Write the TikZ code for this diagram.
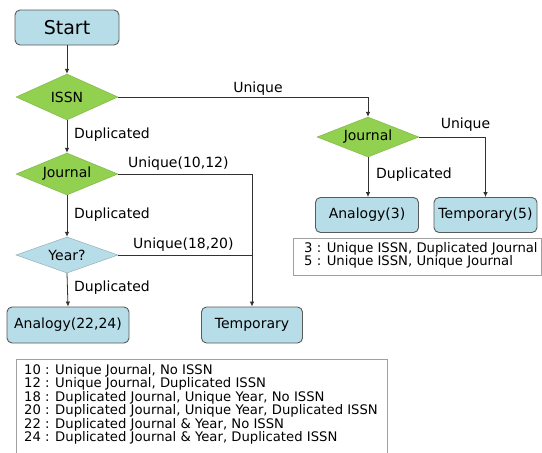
\documentclass[tikz,border=0pt]{standalone}
\usepackage{fontspec}
\setmainfont{DejaVu Sans}
\usetikzlibrary{shapes.geometric,arrows.meta,calc}
\definecolor{boxblue}{RGB}{183,222,232}
\definecolor{dgreen}{RGB}{146,208,80}
\definecolor{lineg}{RGB}{50,50,50}
\definecolor{bordg}{RGB}{90,90,90}
\definecolor{legg}{RGB}{160,160,160}
\begin{document}
\begin{tikzpicture}[x=1pt,y=-1pt,
  box/.style={draw=bordg,line width=0.9pt,fill=boxblue,rounded corners=5pt,inner sep=0pt,font=\fontsize{14}{16}\selectfont},
  dia/.style={diamond,aspect=2.2,inner sep=0pt,font=\fontsize{14}{16}\selectfont},
  gdia/.style={dia,fill=dgreen,draw=dgreen!85!black,line width=0.4pt},
  bdia/.style={dia,fill=boxblue,draw=boxblue!75!black,line width=0.4pt},
  conn/.style={draw=lineg,line width=0.8pt},
  arr/.style={conn,-{Latex[length=5pt,width=4.5pt]}},
  lab/.style={font=\fontsize{14}{16}\selectfont,inner sep=0pt},
  legtxt/.style={font=\fontsize{13.2}{13.5}\selectfont,align=left,inner sep=0pt,anchor=north west}
]
\useasboundingbox[fill=white] (0,0) rectangle (542,453);

% nodes
\node[box,minimum width=104pt,minimum height=35pt,font=\fontsize{19}{21}\selectfont] (start) at (67,27.5) {Start};
\node[gdia,minimum width=102pt,minimum height=46pt] (issn) at (67,97) {ISSN};
\node[gdia,minimum width=102pt,minimum height=42pt] (j1) at (67,174) {Journal};
\node[bdia,minimum width=102pt,minimum height=36pt] (year) at (67,255) {Year?};
\node[box,minimum width=122pt,minimum height=36pt] (an1) at (68,325) {Analogy(22,24)};
\node[box,minimum width=101pt,minimum height=36pt] (temp) at (252,325) {Temporary};
\node[gdia,minimum width=102pt,minimum height=40pt] (j2) at (368,137) {Journal};
\node[box,minimum width=103pt,minimum height=35pt] (an3) at (367,215) {Analogy(3)};
\node[box,minimum width=103pt,minimum height=35pt] (temp5) at (485.5,215) {Temporary(5)};

% connectors
\draw[arr] (start.south) -- (issn.north);
\draw[arr] (issn.south) -- (j1.north);
\draw[arr] (issn.east) -- (issn.east -| j2.north) -- (j2.north);
\draw[arr] (j1.south) -- (year.north);
\draw[arr] (j1.east) -- (j1.east -| temp.north) -- (temp.north);
\draw[conn] (year.east) -- (year.east -| temp.north);
\draw[arr] (year.south) -- (an1.north);
\draw[arr] (j2.south) -- (j2.south |- an3.north);
\draw[arr] (j2.east) -- (j2.east -| temp5.north) -- (temp5.north);

% labels
\node[lab,anchor=west] (l1) at (74,135) {Duplicated};
\node[lab] (l2) at (258,89) {Unique};
\node[lab,anchor=west] (l3) at (128,164) {Unique(10,12)};
\node[lab,anchor=west] (l4) at (74,215) {Duplicated};
\node[lab,anchor=west] (l5) at (133,245) {Unique(18,20)};
\node[lab,anchor=west] (l6) at (74,288) {Duplicated};
\node[lab] (l7) at (465.5,125) {Unique};
\node[lab,anchor=west] (l8) at (376,175) {Duplicated};

% right legend
\draw[legg,line width=0.6pt,fill=white] (293,238) rectangle (541,275);
\node[legtxt] (leg2) at (304,242) {3 : Unique ISSN, Duplicated Journal\\5 : Unique ISSN, Unique Journal};

% bottom legend
\draw[legg,line width=0.6pt] (16,453) -- (16,359) -- (387,359) -- (387,453);
\node[legtxt] (leg1) at (24,364) {10 : Unique Journal, No ISSN\\
12 : Unique Journal, Duplicated ISSN\\
18 : Duplicated Journal, Unique Year, No ISSN\\
20 : Duplicated Journal, Unique Year, Duplicated ISSN\\
22 : Duplicated Journal \& Year, No ISSN\\
24 : Duplicated Journal \& Year, Duplicated ISSN};
\end{tikzpicture}
\end{document}
